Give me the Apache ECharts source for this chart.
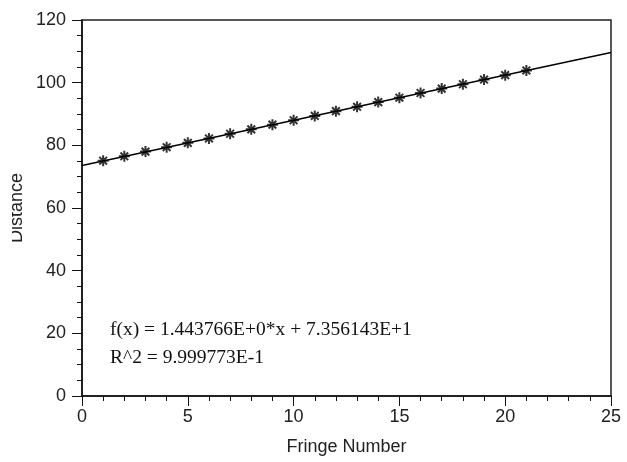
<!DOCTYPE html>
<html>
<head>
<meta charset="utf-8">
<script src="https://cdn.jsdelivr.net/npm/echarts@6/dist/echarts.min.js"></script>
<style>
  html, body { margin: 0; padding: 0; background: #fff; }
  #chart { width: 627px; height: 462px; }
</style>
</head>
<body>
<div id="chart"></div>
<script>
var fringes = [1, 2, 3, 4, 5, 6, 7, 8, 9, 10, 11, 12, 13, 14, 15, 16, 17, 18, 19, 20, 21]
var distances = [75.1, 76.5, 78.0, 79.4, 80.8, 82.2, 83.7, 85.1, 86.6, 88.0, 89.4,
  90.9, 92.3, 93.8, 95.2, 96.7, 98.1, 99.5, 101.0, 102.4, 103.9]
// fitted line end points
var fitX = [0, 25]
var fitY = [73.56, 109.66]
var eqLines = ['f(x) = 1.443766E+0*x + 7.356143E+1', 'R^2 = 9.999773E-1']

var font = '"Liberation Sans", Arial, sans-serif'
var serif = '"Liberation Serif", "Times New Roman", serif'

var myChart = echarts.init(document.getElementById('chart'))

// asterisk marker
var star = 'path://M-5,0L5,0M0,-5L0,5M-3.5,-3.5L3.5,3.5M-3.5,3.5L3.5,-3.5'

var option = {
  backgroundColor: '#fff',
  animation: false,
  grid: {
    left: 82, right: 16, top: 20, bottom: 66,
    outerBoundsMode: 'none',
    containLabel: false,
    show: true,
    borderColor: '#222',
    borderWidth: 1.5,
    backgroundColor: 'transparent'
  },
  xAxis: {
    type: 'value',
    min: 0, max: 25, interval: 5,
    name: 'Fringe Number',
    nameLocation: 'middle',
    nameGap: 42,
    nameMoveOverlap: false,
    nameTextStyle: { fontFamily: font, fontSize: 18, color: '#222' },
    axisLine: { lineStyle: { color: '#111', width: 1.5 } },
    axisTick: { length: 10, lineStyle: { color: '#111' } },
    minorTick: { show: true, splitNumber: 5, length: 5, lineStyle: { color: '#111' } },
    splitLine: { show: false },
    axisLabel: { fontFamily: font, fontSize: 18, color: '#222', margin: 12 }
  },
  yAxis: {
    type: 'value',
    min: 0, max: 120, interval: 20,
    name: 'Distance',
    nameLocation: 'middle',
    nameGap: 56,
    nameMoveOverlap: false,
    nameTextStyle: { fontFamily: font, fontSize: 18, color: '#222' },
    axisLine: { show: true, lineStyle: { color: '#111', width: 1.5 } },
    axisTick: { show: true, length: 10, lineStyle: { color: '#111' } },
    minorTick: { show: true, splitNumber: 4, length: 5, lineStyle: { color: '#111' } },
    splitLine: { show: false },
    axisLabel: { fontFamily: font, fontSize: 18, color: '#222', margin: 16 }
  },
  series: [{
    type: 'line',
    data: fitX.map(function (x, i) { return [x, fitY[i]] }),
    showSymbol: false,
    lineStyle: { color: '#000', width: 1.5 },
    z: 2
  }, {
    type: 'scatter',
    data: fringes.map(function (x, i) { return [x, distances[i]] }),
    symbol: star,
    symbolSize: 11,
    itemStyle: { color: 'rgba(0,0,0,0)', borderColor: '#000', borderWidth: 2 },
    z: 3
  }],
  graphic: [{
    type: 'text',
    left: 110, top: 320,
    style: { text: eqLines[0], font: '19.5px ' + serif, fill: '#111' }
  }, {
    type: 'text',
    left: 110, top: 348,
    style: { text: eqLines[1], font: '19.5px ' + serif, fill: '#111' }
  }, {
    // the original picture is cropped at its left edge
    type: 'rect',
    left: 0, top: 140,
    shape: { width: 12, height: 130 },
    style: { fill: '#fff' },
    z: 100
  }]
}

myChart.setOption(option)
window.addEventListener('resize', function () {
  myChart.resize()
})
</script>
</body>
</html>
